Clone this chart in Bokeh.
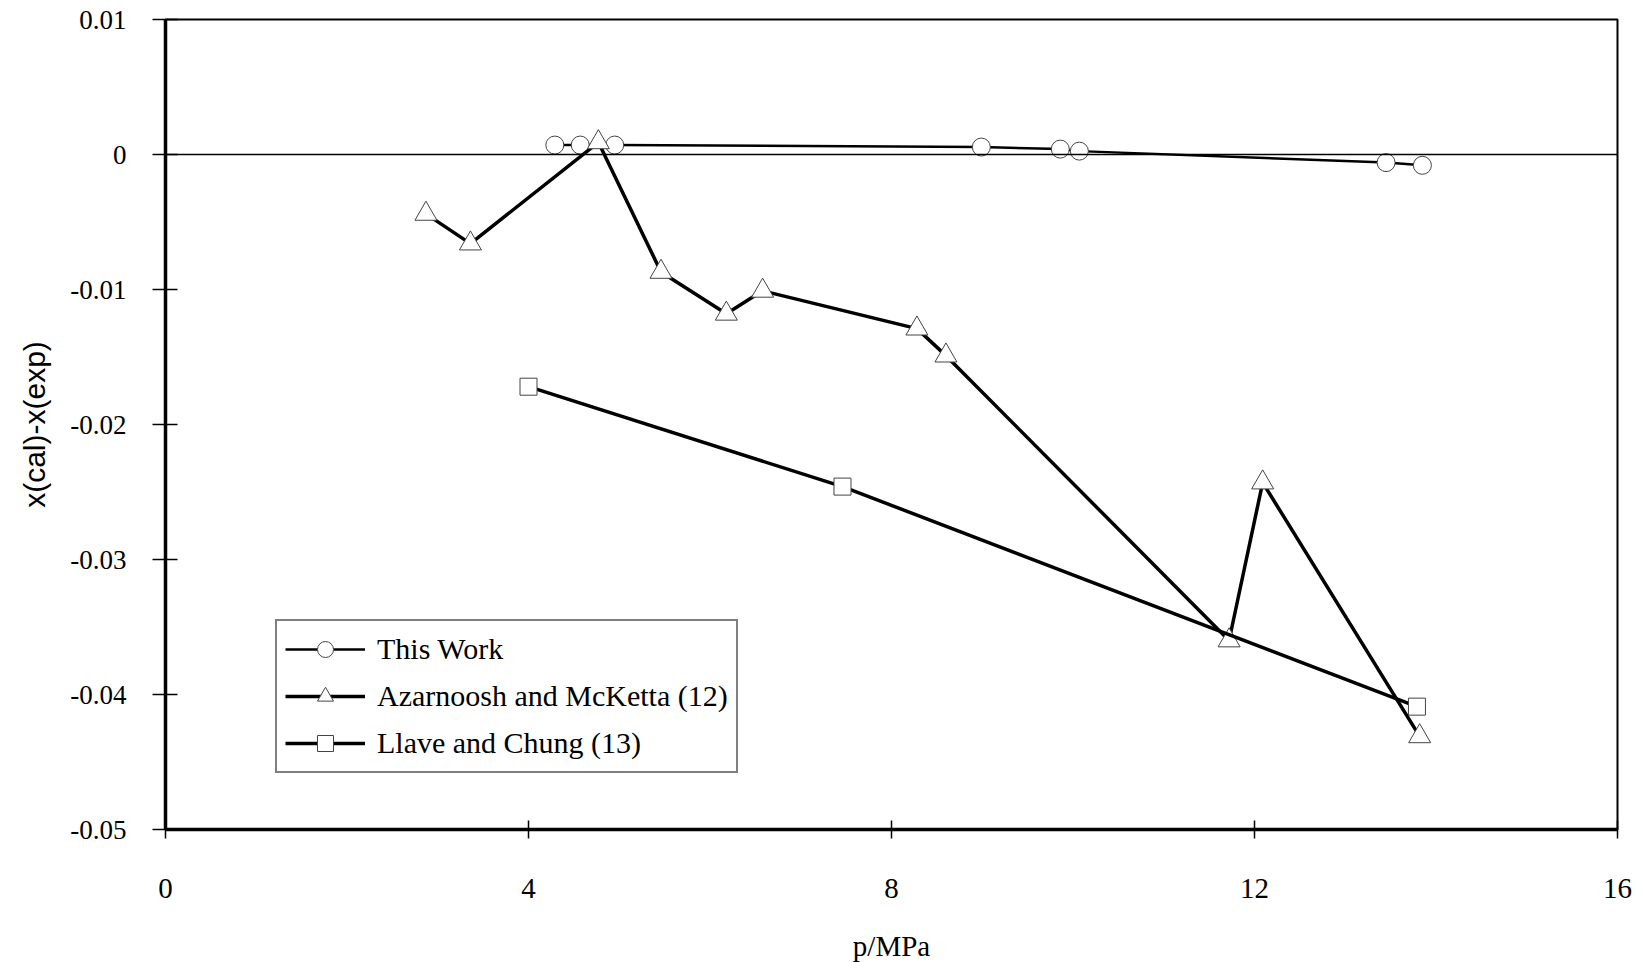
from bokeh.plotting import figure
from bokeh.models import Legend, LegendItem, Span, FixedTicker, Range1d
from bokeh.embed import file_html
from bokeh.resources import INLINE

# This Work
tw_p = [4.29, 4.57, 4.95, 8.99, 9.86, 10.07, 13.45, 13.85]
tw_d = [0.0007, 0.0007, 0.0007, 0.00055, 0.0004, 0.00025, -0.0006, -0.0008]
# Azarnoosh and McKetta (12)
am_p = [2.87, 3.36, 4.77, 5.46, 6.18, 6.58, 8.28, 8.60, 11.72, 12.09, 13.82]
am_d = [-0.0044, -0.0066, 0.0009, -0.0087, -0.0118, -0.0101, -0.0129, -0.0149, -0.0360, -0.0243, -0.0431]
# Llave and Chung (13)
lc_p = [4.00, 7.46, 13.79]
lc_d = [-0.0172, -0.0246, -0.0409]

x_ticks = [0, 4, 8, 12, 16]
y_ticks = [0.01, 0, -0.01, -0.02, -0.03, -0.04, -0.05]
y_tick_labels = ["0.01", "0", "-0.01", "-0.02", "-0.03", "-0.04", "-0.05"]

SERIF = "Liberation Serif"

p = figure(frame_width=1452, frame_height=810, output_backend="svg",
           toolbar_location=None, x_range=Range1d(0, 16), y_range=Range1d(-0.05, 0.01),
           min_border_left=165, min_border_right=34, min_border_top=19, min_border_bottom=133,
           background_fill_color="white", border_fill_color="white")
p.grid.visible = False
p.outline_line_color = "black"
p.outline_line_width = 2

p.xaxis.ticker = FixedTicker(ticks=x_ticks)
p.yaxis.ticker = FixedTicker(ticks=y_ticks)
p.yaxis.major_label_overrides = {float(k): v for k, v in zip(y_ticks, y_tick_labels)}
for ax in (p.xaxis, p.yaxis):
    ax.axis_line_width = 3.5
    ax.axis_line_color = "black"
    ax.major_tick_line_color = "black"
    ax.major_tick_line_width = 1.5
    ax.minor_tick_line_color = None
    ax.major_label_text_font = SERIF
    ax.major_label_text_color = "black"
p.xaxis.major_label_text_font_size = "29px"
p.yaxis.major_label_text_font_size = "27px"
p.xaxis.major_tick_in = 9
p.xaxis.major_tick_out = 9
p.yaxis.major_tick_in = 12
p.yaxis.major_tick_out = 13
p.xaxis.major_label_standoff = 40
p.yaxis.major_label_standoff = 26

p.xaxis.axis_label = "p/MPa"
p.xaxis.axis_label_text_font = SERIF
p.xaxis.axis_label_text_font_style = "normal"
p.xaxis.axis_label_text_font_size = "29px"
p.xaxis.axis_label_standoff = 29
p.yaxis.axis_label = "x(cal)-x(exp)"
p.yaxis.axis_label_text_font = "Liberation Sans"
p.yaxis.axis_label_text_font_style = "normal"
p.yaxis.axis_label_text_font_size = "30px"
p.yaxis.axis_label_text_color = "black"
p.yaxis.axis_label_standoff = 16
p.xaxis.axis_label_text_color = "black"

p.add_layout(Span(location=0, dimension="width", line_color="black", line_width=1.5))

l1 = p.line(tw_p, tw_d, line_color="black", line_width=2.5)
s1 = p.scatter(tw_p, tw_d, marker="circle", size=18, fill_color="white",
               line_color="#444444", line_width=1)
l2 = p.line(am_p, am_d, line_color="black", line_width=3.5)
s2 = p.scatter(am_p, am_d, marker="triangle", size=22, fill_color="white",
               line_color="#444444", line_width=1)
l3 = p.line(lc_p, lc_d, line_color="black", line_width=3.5)
s3 = p.scatter(lc_p, lc_d, marker="square", size=17, fill_color="white",
               line_color="#444444", line_width=1)

legend = Legend(items=[
    LegendItem(label="This Work", renderers=[l1, s1]),
    LegendItem(label="Azarnoosh and McKetta (12)", renderers=[l2, s2]),
    LegendItem(label="Llave and Chung (13)", renderers=[l3, s3]),
], location=(110, 56))
legend.label_text_font = SERIF
legend.label_text_font_size = "30px"
legend.label_text_color = "black"
legend.glyph_width = 80
legend.glyph_height = 40
legend.label_height = 40
legend.label_standoff = 12
legend.spacing = 7
legend.padding = 8
legend.margin = 0
legend.border_line_color = "black"
legend.border_line_width = 2
legend.background_fill_alpha = 1
p.add_layout(legend, "center")

open("out.html", "w").write(file_html(p, INLINE))
